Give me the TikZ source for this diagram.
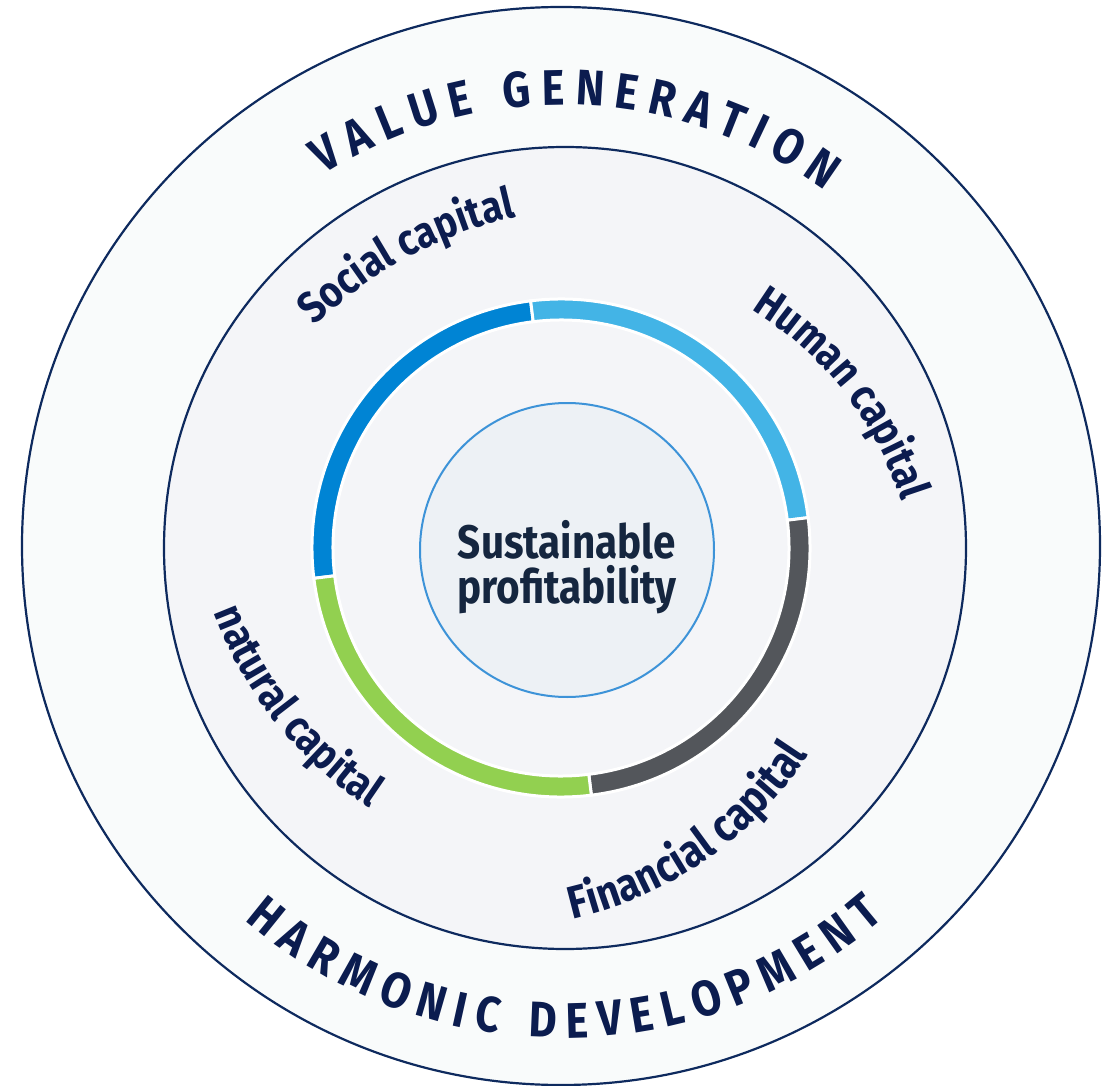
\documentclass[tikz,border=0pt]{standalone}
\usepackage{fontspec}
\setmainfont{Fira Sans}[FakeStretch=0.86]
\usepackage{tikz}
\usetikzlibrary{decorations.text}

\definecolor{navy}{HTML}{0B1C4F}
\definecolor{rimline}{HTML}{0E2A5E}
\definecolor{bandfill}{HTML}{F9FBFB}
\definecolor{fieldfill}{HTML}{F4F5F8}
\definecolor{hubfill}{HTML}{EDF1F5}
\definecolor{hubline}{HTML}{3D93D8}
\definecolor{hubtext}{HTML}{15263F}
\definecolor{socialblue}{HTML}{0084D4}
\definecolor{humanblue}{HTML}{43B4E6}
\definecolor{financegray}{HTML}{53565B}
\definecolor{naturegreen}{HTML}{92D050}

\newcommand\bandfont{\bfseries\fontsize{50}{50}\selectfont}
\newcommand\arcfont{\bfseries\fontsize{44}{44}\selectfont}

\begin{document}
\begin{tikzpicture}[
  x=1pt, y=1pt,
  rim/.style={draw=rimline, line width=2.2pt},
  segment/.style={draw=white, line width=3pt},
  hub/.style={circle, draw=hubline, line width=2pt, fill=hubfill, minimum size=294pt, inner sep=0pt},
  core/.style={align=center, text=hubtext, font=\bfseries\fontsize{47}{45}\selectfont},
  arctext/.style={decorate, decoration={text along path, text align=center, text color=navy}}
]
\useasboundingbox (0,0) rectangle (1104,-1086);
\clip (0,0) rectangle (1104,-1086);

\filldraw[rim, fill=bandfill] (561,-546) circle[radius=539pt];
\filldraw[rim, fill=fieldfill] (565,-548) circle[radius=401pt];

\foreach \a/\b/\col in {97/187/socialblue, 7/97/humanblue, -83/7/financegray, 187/277/naturegreen}
  \filldraw[segment, fill=\col, shift={(561,-548)}]
    (\a:249pt) arc[start angle=\a, end angle=\b, radius=249pt]
    -- (\b:228pt) arc[start angle=\b, end angle=\a, radius=228pt] -- cycle;

\node[hub] (hub) at (567,-550) {};
\node[core] (core) at (567,-567) {Sustainable\\profitability};

\path[arctext, shift={(563,-548)}, decoration={text={|\bandfont|V A L U E ~ G E N E R A T I O N}}]
  (130:443pt) arc[start angle=130, end angle=46.4, radius=443pt];
\path[arctext, shift={(563,-548)}, decoration={text={|\bandfont|H A R M O N I C ~ D E V E L O P M E N T}}]
  (220:490pt) arc[start angle=220, end angle=320.4, radius=490pt];

\path[arctext, shift={(610,-630)}, decoration={text={|\arcfont|Social capital}}]
  (145:424pt) arc[start angle=145, end angle=92, radius=424pt];
\path[arctext, shift={(565,-610)}, decoration={text={|\arcfont|Human capital}}]
  (68:354pt) arc[start angle=68, end angle=8, radius=354pt];
\path[arctext, shift={(594,-470)}, decoration={text={|\arcfont|natural capital}}]
  (190:406pt) arc[start angle=190, end angle=247, radius=406pt];
\path[arctext, shift={(487,-546)}, decoration={text={|\arcfont\fontsize{46}{46}\selectfont|Financial capital}}]
  (272:383pt) arc[start angle=272, end angle=338, radius=383pt];

\end{tikzpicture}
\end{document}
